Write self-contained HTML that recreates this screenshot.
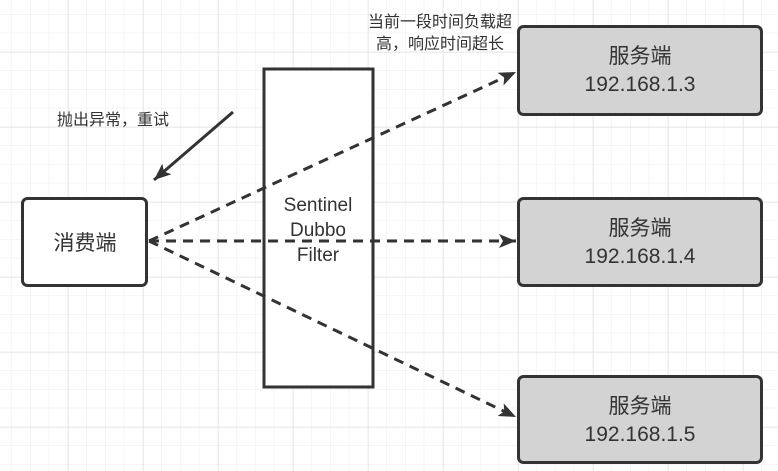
<!DOCTYPE html>
<html><head><meta charset="utf-8"><style>
html,body{margin:0;padding:0;background:#fff;}
svg{display:block;}
text{font-family:"Liberation Sans","Noto Sans CJK SC",sans-serif;fill:#333;}
</style></head><body>
<svg width="778" height="471" viewBox="0 0 778 471" xmlns="http://www.w3.org/2000/svg">
<defs>
<pattern id="minor" x="-7" y="52" width="18.75" height="18.75" patternUnits="userSpaceOnUse">
<path d="M18.75 0V18.75M0 18.75H18.75" stroke="#ececec" stroke-width="1" fill="none"/>
</pattern>
<pattern id="major" x="-7" y="52" width="75" height="75" patternUnits="userSpaceOnUse">
<path d="M0 0V75M0 0H75" stroke="#dcdcdc" stroke-width="1" fill="none"/>
</pattern>
<marker id="ah2" markerWidth="18" markerHeight="16" refX="17" refY="8" orient="auto" markerUnits="userSpaceOnUse">
<path d="M0,1 L17,8 L0,15 L4,8 Z" fill="#333"/>
</marker>
</defs>
<rect width="778" height="471" fill="url(#minor)"/>
<rect width="778" height="471" fill="url(#major)"/>

<rect x="264" y="69" width="109" height="318" fill="#fff" stroke="#333" stroke-width="3"/>
<text x="318" y="211" font-size="19" text-anchor="middle">Sentinel</text>
<text x="318" y="236" font-size="19" text-anchor="middle">Dubbo</text>
<text x="318" y="261" font-size="19" text-anchor="middle">Filter</text>

<g stroke="#333" stroke-width="3" fill="none" stroke-dasharray="10,7">
<line x1="149" y1="241" x2="516" y2="72" marker-end="url(#ah2)"/>
<line x1="149" y1="241" x2="516" y2="241" marker-end="url(#ah2)"/>
<line x1="149" y1="241" x2="516" y2="417" marker-end="url(#ah2)"/>
</g>
<line x1="233" y1="112" x2="154" y2="180" stroke="#333" stroke-width="3" marker-end="url(#ah2)"/>

<rect x="22.5" y="198.5" width="124" height="87" rx="5" fill="#fff" stroke="#333" stroke-width="3"/>
<text x="85" y="250" font-size="21" text-anchor="middle">消费端</text>

<g>
<rect x="518.5" y="26.5" width="243" height="88" rx="5" fill="#d3d3d3" stroke="#333" stroke-width="3"/>
<text x="640" y="63" font-size="21" text-anchor="middle">服务端</text>
<text x="640" y="91" font-size="21" text-anchor="middle">192.168.1.3</text>
<rect x="518.5" y="198.5" width="243" height="87" rx="5" fill="#d3d3d3" stroke="#333" stroke-width="3"/>
<text x="640" y="235" font-size="21" text-anchor="middle">服务端</text>
<text x="640" y="263" font-size="21" text-anchor="middle">192.168.1.4</text>
<rect x="518.5" y="376.5" width="243" height="86" rx="5" fill="#d3d3d3" stroke="#333" stroke-width="3"/>
<text x="640" y="413" font-size="21" text-anchor="middle">服务端</text>
<text x="640" y="441" font-size="21" text-anchor="middle">192.168.1.5</text>
</g>

<text x="113" y="125" font-size="16" text-anchor="middle">抛出异常，重试</text>
<text x="440" y="27" font-size="16" text-anchor="middle">当前一段时间负载超</text>
<text x="440" y="49" font-size="16" text-anchor="middle">高，响应时间超长</text>
</svg>
</body></html>
